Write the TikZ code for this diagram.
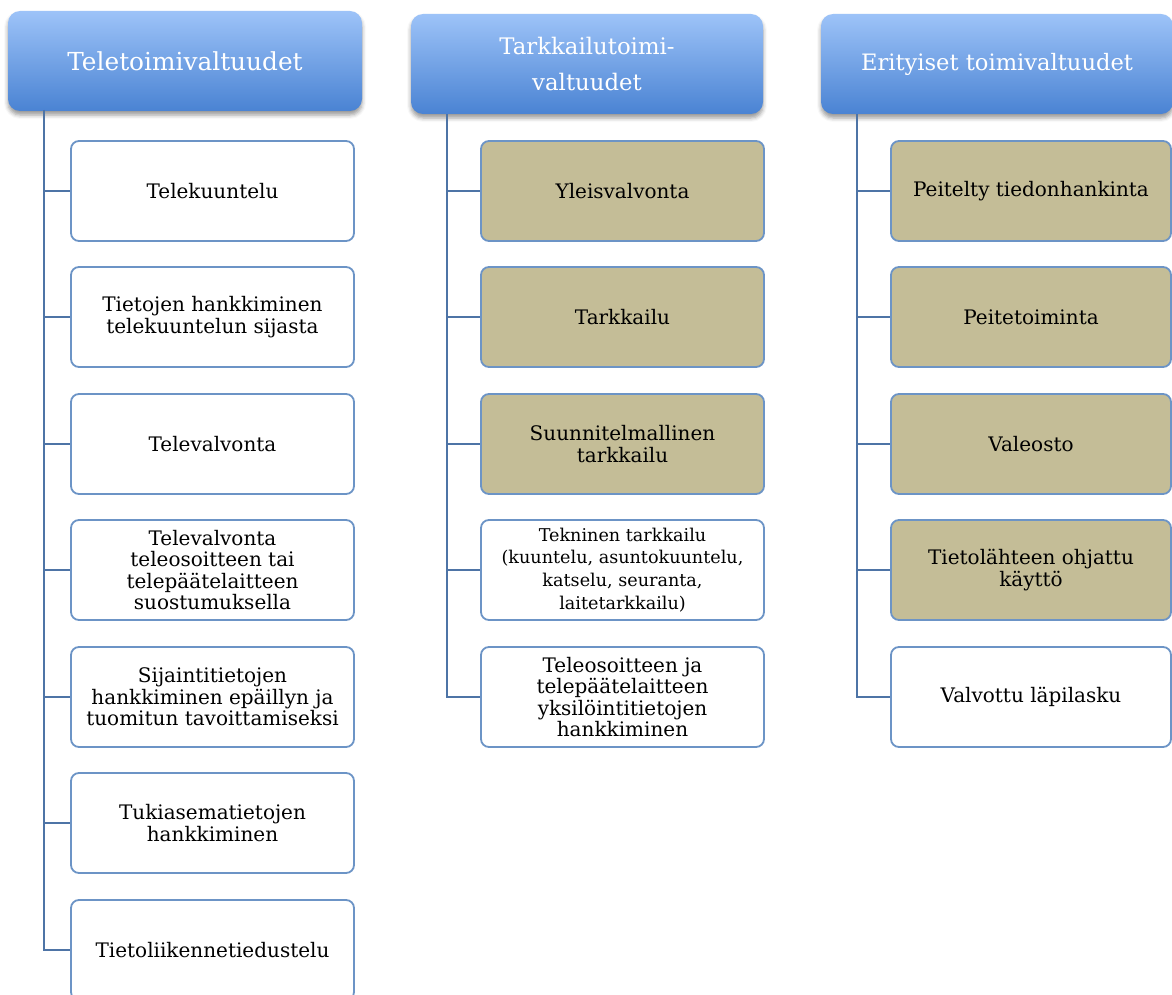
\documentclass[tikz,border=0pt]{standalone}
\usepackage{fontspec}
\setmainfont{DejaVu Serif}
\usepackage{tikz}
\usepackage{xcolor}
\usetikzlibrary{shadows.blur}
\definecolor{headtop}{HTML}{9DC3F8}
\definecolor{headbot}{HTML}{4A83D3}
\definecolor{edgeblue}{HTML}{6C94C6}
\definecolor{trunkblue}{HTML}{4E74A6}
\definecolor{tanfill}{HTML}{C4BD97}
\tikzset{
  head/.style={rounded corners=6pt, top color=headtop, bottom color=headbot,
    text=white, minimum height=50pt, align=center, inner sep=0pt,
    font=\fontsize{12.4}{18}\selectfont,
    blur shadow={shadow xshift=0pt, shadow yshift=-2pt, shadow blur radius=2pt, shadow opacity=40}},
  item/.style={rounded corners=4pt, draw=edgeblue, line width=0.9pt, fill=white,
    minimum width=141.5pt, minimum height=50pt, align=center, inner sep=0pt,
    text=black, font=\fontsize{10}{10.8}\selectfont},
  tan/.style={item, fill=tanfill},
  trunk/.style={draw=trunkblue, line width=1.2pt}
}

\begin{document}
\begin{tikzpicture}[x=0.5pt, y=-0.5pt]
  \useasboundingbox (0,0) rectangle (1172,995);
  % headers
  \node[head, minimum width=177pt] (h1) at (185,61) {Teletoimivaltuudet};
  \node[head, minimum width=176pt, font=\fontsize{11.4}{18}\selectfont] (h2) at (587,64) {Tarkkailutoimi-\\valtuudet};
  \node[head, minimum width=176pt, font=\fontsize{11.3}{18}\selectfont] (h3) at (997,64) {Erityiset toimivaltuudet};
  % first column
  \node[item] (a1) at (212.5,191) {Telekuuntelu};
  \node[item] (a2) at (212.5,317) {Tietojen hankkiminen\\telekuuntelun sijasta};
  \node[item] (a3) at (212.5,444) {Televalvonta};
  \node[item] (a4) at (212.5,570) {Televalvonta\\teleosoitteen tai\\telepäätelaitteen\\suostumuksella};
  \node[item] (a5) at (212.5,697) {Sijaintitietojen\\hankkiminen epäillyn ja\\tuomitun tavoittamiseksi};
  \node[item] (a6) at (212.5,823) {Tukiasematietojen\\hankkiminen};
  \node[item] (a7) at (212.5,950) {Tietoliikennetiedustelu};
  % second column
  \node[tan] (b1) at (622.5,191) {Yleisvalvonta};
  \node[tan] (b2) at (622.5,317) {Tarkkailu};
  \node[tan] (b3) at (622.5,444) {Suunnitelmallinen\\tarkkailu};
  \node[item, font=\fontsize{8.8}{11.4}\selectfont] (b4) at (622.5,570) {Tekninen tarkkailu\\(kuuntelu, asuntokuuntelu,\\katselu, seuranta,\\laitetarkkailu)};
  \node[item] (b5) at (622.5,697) {Teleosoitteen ja\\telepäätelaitteen\\yksilöintitietojen\\hankkiminen};
  % third column
  \node[tan, minimum width=140pt] (c1) at (1031,191) {Peitelty tiedonhankinta};
  \node[tan, minimum width=140pt] (c2) at (1031,317) {Peitetoiminta};
  \node[tan, minimum width=140pt] (c3) at (1031,444) {Valeosto};
  \node[tan, minimum width=140pt] (c4) at (1031,570) {Tietolähteen ohjattu\\käyttö};
  \node[item, minimum width=140pt] (c5) at (1031,697) {Valvottu läpilasku};
  % connectors
  \coordinate (t1) at (44,110);
  \coordinate (t2) at (447,114);
  \coordinate (t3) at (857,114);
  \draw[trunk] (t1) |- (a7.west);
  \draw[trunk] (t2) |- (b5.west);
  \draw[trunk] (t3) |- (c5.west);
  \foreach \n in {a1,a2,a3,a4,a5,a6}
    \draw[trunk] (t1 |- \n.west) -- (\n.west);
  \foreach \n in {b1,b2,b3,b4}
    \draw[trunk] (t2 |- \n.west) -- (\n.west);
  \foreach \n in {c1,c2,c3,c4}
    \draw[trunk] (t3 |- \n.west) -- (\n.west);
\end{tikzpicture}
\end{document}
